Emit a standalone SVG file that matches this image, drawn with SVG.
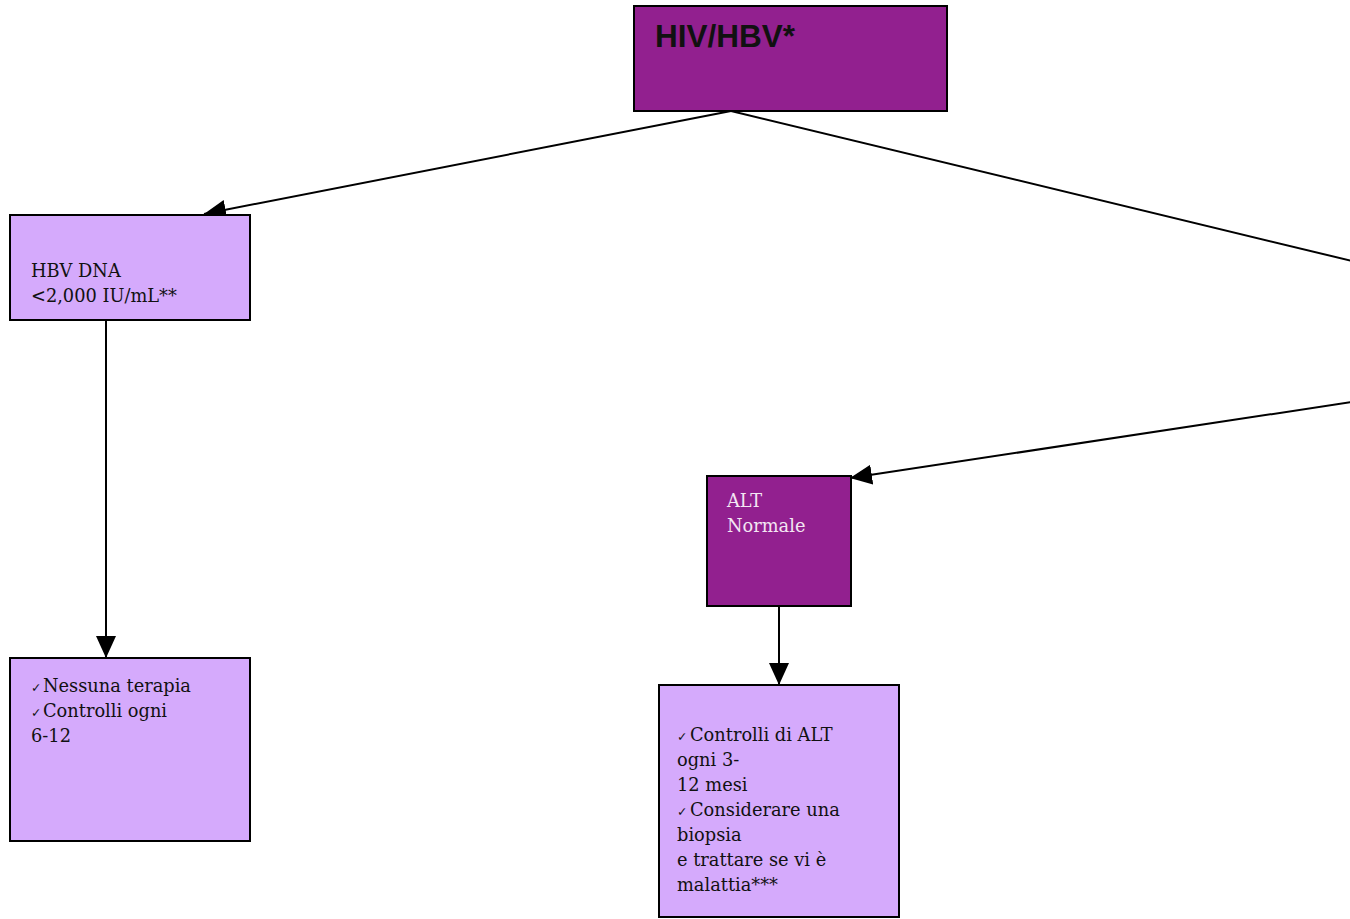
<svg xmlns="http://www.w3.org/2000/svg" width="1350" height="919" viewBox="0 0 1350 919">
<style>
.box{stroke:#000;stroke-width:2}
.dark{fill:#92208f}
.light{fill:#d5aafc}
.t{font-family:"DejaVu Serif","Liberation Serif",serif;font-size:17.8px;fill:#111}
.tw{font-family:"DejaVu Serif","Liberation Serif",serif;font-size:17.8px;fill:#f3e6f3}
.ck{font-family:"DejaVu Sans",sans-serif;font-size:12.5px;font-weight:bold}
.conn{stroke:#000;stroke-width:2;fill:none}
</style>
<defs>
<marker id="arr" markerUnits="userSpaceOnUse" markerWidth="24" markerHeight="22" refX="22" refY="10" orient="auto">
<path d="M0,0 L22,10 L0,20 Z" fill="#000"/>
</marker>
</defs>
<rect width="1350" height="919" fill="#fff"/>
<g id="connectors">
<line class="conn" x1="731" y1="111" x2="204" y2="214" marker-end="url(#arr)"/>
<line class="conn" x1="731" y1="111" x2="1352" y2="261"/>
<line class="conn" x1="1352" y1="402" x2="850" y2="478" marker-end="url(#arr)"/>
<line class="conn" x1="106" y1="320" x2="106" y2="658" marker-end="url(#arr)"/>
<line class="conn" x1="779" y1="606" x2="779" y2="685" marker-end="url(#arr)"/>
</g>
<g id="node-hivhbv">
<rect class="box dark" x="634" y="6" width="313" height="105"/>
<text x="655" y="47" font-family="'Liberation Sans',Arial,sans-serif" font-size="31.5" font-weight="bold" fill="#111">HIV/HBV*</text>
</g>
<g id="node-hbvdna">
<rect class="box light" x="10" y="215" width="240" height="105"/>
<text class="t" x="31" y="277">HBV DNA</text>
<text class="t" x="31" y="302">&lt;2,000 IU/mL**</text>
</g>
<g id="node-nessuna">
<rect class="box light" x="10" y="658" width="240" height="183"/>
<text class="t" x="31" y="692"><tspan class="ck">✓</tspan><tspan x="43">Nessuna terapia</tspan></text>
<text class="t" x="31" y="717"><tspan class="ck">✓</tspan><tspan x="43">Controlli ogni</tspan></text>
<text class="t" x="31" y="742">6-12</text>
</g>
<g id="node-alt">
<rect class="box dark" x="707" y="476" width="144" height="130"/>
<text class="tw" x="727" y="507">ALT</text>
<text class="tw" x="727" y="532">Normale</text>
</g>
<g id="node-controlli">
<rect class="box light" x="659" y="685" width="240" height="232"/>
<text class="t" x="677" y="741"><tspan class="ck">✓</tspan><tspan x="690">Controlli di ALT</tspan></text>
<text class="t" x="677" y="766">ogni 3-</text>
<text class="t" x="677" y="791">12 mesi</text>
<text class="t" x="677" y="816"><tspan class="ck">✓</tspan><tspan x="690">Considerare una</tspan></text>
<text class="t" x="677" y="841">biopsia</text>
<text class="t" x="677" y="866">e trattare se vi è</text>
<text class="t" x="677" y="891">malattia***</text>
</g>
</svg>
